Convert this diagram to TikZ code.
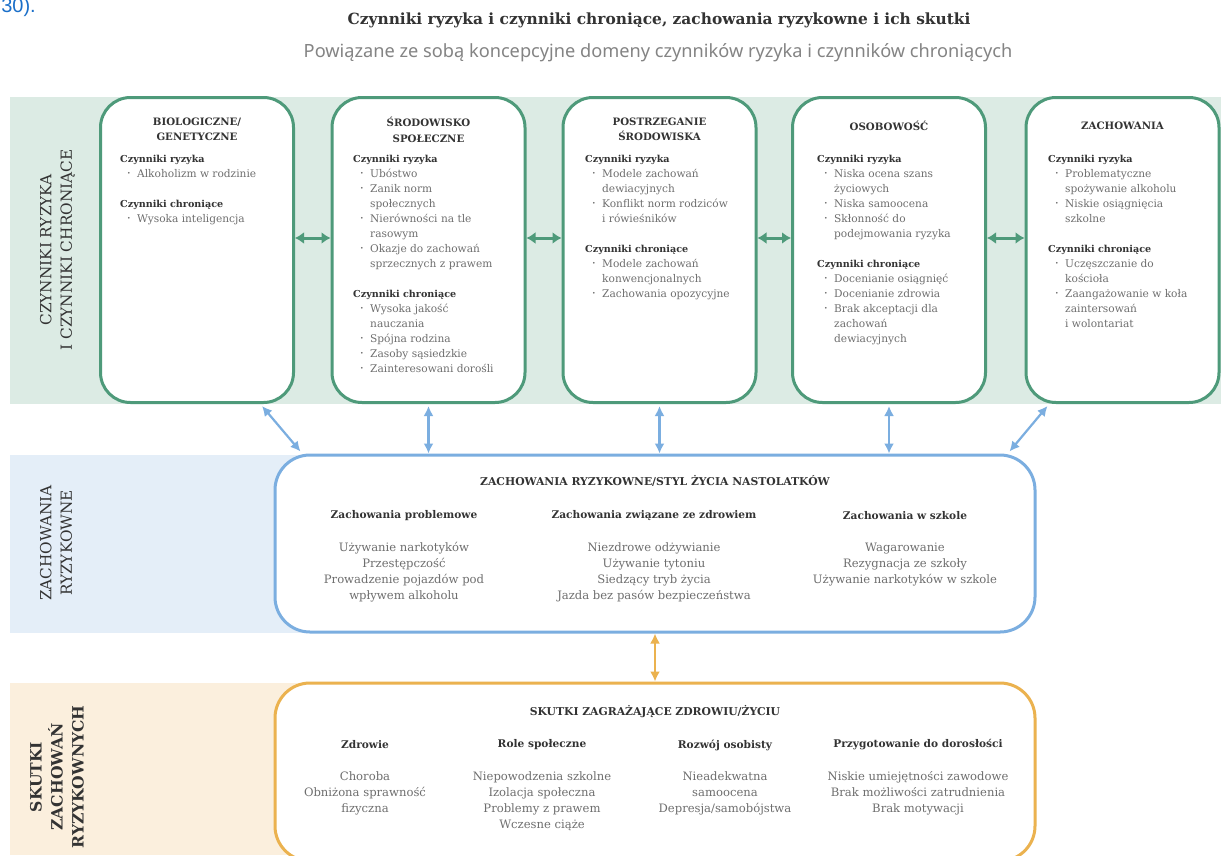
\documentclass[tikz,border=0pt]{standalone}
\usepackage{fontspec}
\setmainfont{DejaVu Serif}
\newfontfamily\subfont{Noto Sans}
\newfontfamily\linkfont{Liberation Sans}
\usetikzlibrary{arrows.meta}
\definecolor{greenband}{HTML}{DCEBE4}
\definecolor{greenline}{HTML}{4E9A7A}
\definecolor{blueband}{HTML}{E4EEF8}
\definecolor{blueline}{HTML}{7BAEE0}
\definecolor{orangeband}{HTML}{FBEFDD}
\definecolor{orangeline}{HTML}{EBB24F}
\definecolor{headgray}{HTML}{333333}
\definecolor{itemgray}{HTML}{6E6E6E}
\definecolor{linkblue}{HTML}{1A6FC9}
\newcommand{\factorhead}[1]{{\fontsize{9.6}{15}\selectfont\bfseries\color{headgray}#1}}
\newcommand{\bul}[1]{\hspace*{7pt}\makebox[10pt][l]{\fontsize{6}{6}\selectfont\raisebox{1.5pt}{•}}#1}
\newcommand{\cont}[1]{\hspace*{17pt}#1}
\tikzset{
  domainbox/.style={draw=greenline, line width=3pt, fill=white, rounded corners=30pt,
    minimum width=193pt, minimum height=305pt, inner sep=0pt},
  riskbox/.style={draw=blueline, line width=3pt, fill=white, rounded corners=35pt,
    minimum width=760pt, minimum height=177pt, inner sep=0pt},
  outcomebox/.style={draw=orangeline, line width=3pt, fill=white, rounded corners=35pt,
    minimum width=760pt, minimum height=178pt, inner sep=0pt},
  boxhead/.style={font=\fontsize{10.2}{15.5}\selectfont\bfseries, text=headgray, align=center, inner sep=0pt},
  factors/.style={font=\fontsize{10.6}{15}\selectfont, text=itemgray, align=left, anchor=north west, inner sep=0pt},
  colhead/.style={font=\fontsize{10.6}{16}\selectfont\bfseries, text=headgray, inner sep=0pt},
  colitems/.style={font=\fontsize{11.6}{16}\selectfont, text=itemgray, align=center, anchor=north, inner sep=0pt},
  sidelabel/.style={rotate=90, align=center, text=headgray, font=\fontsize{15.3}{20.5}\selectfont, inner sep=0pt},
  garrow/.style={draw=greenline, line width=3pt, {Latex[length=9pt,width=12pt]}-{Latex[length=9pt,width=12pt]}},
  barrow/.style={draw=blueline, line width=2.2pt, {Latex[length=10pt,width=10pt]}-{Latex[length=10pt,width=10pt]}},
  oarrow/.style={draw=orangeline, line width=2.2pt, {Latex[length=10pt,width=10pt]}-{Latex[length=10pt,width=10pt]}}
}
\begin{document}
\begin{tikzpicture}[x=1pt, y=-1pt]
\useasboundingbox (0,0) rectangle (1221,855);
\fill[white] (0,0) rectangle (1221,855);
\node[anchor=base east, text=linkblue, font=\linkfont\fontsize{20}{20}\selectfont, inner sep=0pt] (link) at (36,12) {30).};
\node[font=\fontsize{15.4}{18}\selectfont\bfseries, text=headgray] (title) at (659,20) {Czynniki ryzyka i czynniki chroniące, zachowania ryzykowne i ich skutki};
\node[font=\subfont\fontsize{18.2}{20}\selectfont, text=itemgray!85] (subtitle) at (658,53) {Powiązane ze sobą koncepcyjne domeny czynników ryzyka i czynników chroniących};

\fill[greenband] (10,97) rectangle (1221,404);
\fill[blueband] (10,455) rectangle (1000,633);
\fill[orangeband] (10,683) rectangle (1000,855);

\node[sidelabel] (lab1) at (57.5,250) {CZYNNIKI RYZYKA\\I CZYNNIKI CHRONIĄCE};
\node[sidelabel] (lab2) at (56,543) {ZACHOWANIA\\RYZYKOWNE};
\node[sidelabel, font=\fontsize{15.6}{21}\selectfont\bfseries] (lab3) at (57,777) {SKUTKI\\ZACHOWAŃ\\RYZYKOWNYCH};

\node[domainbox] (b1) at (197,250) {};
\node[domainbox] (b2) at (428.5,250) {};
\node[domainbox] (b3) at (659.5,250) {};
\node[domainbox] (b4) at (889,250) {};
\node[domainbox] (b5) at (1122.5,250) {};

\node[boxhead] (h1) at (197,129.5) {BIOLOGICZNE/\\GENETYCZNE};
\node[boxhead] (h2) at (428.5,130) {ŚRODOWISKO\\SPOŁECZNE};
\node[boxhead] (h3) at (659.5,129.5) {POSTRZEGANIE\\ŚRODOWISKA};
\node[boxhead] (h4) at (889,126) {OSOBOWOŚĆ};
\node[boxhead] (h5) at (1122.5,126) {ZACHOWANIA};

\node[factors] (f1) at (120,154.5) {\factorhead{Czynniki ryzyka}\\
\bul{Alkoholizm w rodzinie}\\[15pt]
\factorhead{Czynniki chroniące}\\
\bul{Wysoka inteligencja}};
\node[factors] (f2) at (353,154.5) {\factorhead{Czynniki ryzyka}\\
\bul{Ubóstwo}\\
\bul{Zanik norm}\\
\cont{społecznych}\\
\bul{Nierówności na tle}\\
\cont{rasowym}\\
\bul{Okazje do zachowań}\\
\cont{sprzecznych z prawem}\\[15pt]
\factorhead{Czynniki chroniące}\\
\bul{Wysoka jakość}\\
\cont{nauczania}\\
\bul{Spójna rodzina}\\
\bul{Zasoby sąsiedzkie}\\
\bul{Zainteresowani dorośli}};
\node[factors] (f3) at (585,154.5) {\factorhead{Czynniki ryzyka}\\
\bul{Modele zachowań}\\
\cont{dewiacyjnych}\\
\bul{Konflikt norm rodziców}\\
\cont{i rówieśników}\\[15pt]
\factorhead{Czynniki chroniące}\\
\bul{Modele zachowań}\\
\cont{konwencjonalnych}\\
\bul{Zachowania opozycyjne}};
\node[factors] (f4) at (817,154.5) {\factorhead{Czynniki ryzyka}\\
\bul{Niska ocena szans}\\
\cont{życiowych}\\
\bul{Niska samoocena}\\
\bul{Skłonność do}\\
\cont{podejmowania ryzyka}\\[15pt]
\factorhead{Czynniki chroniące}\\
\bul{Docenianie osiągnięć}\\
\bul{Docenianie zdrowia}\\
\bul{Brak akceptacji dla}\\
\cont{zachowań}\\
\cont{dewiacyjnych}};
\node[factors] (f5) at (1048,154.5) {\factorhead{Czynniki ryzyka}\\
\bul{Problematyczne}\\
\cont{spożywanie alkoholu}\\
\bul{Niskie osiągnięcia}\\
\cont{szkolne}\\[15pt]
\factorhead{Czynniki chroniące}\\
\bul{Uczęszczanie do}\\
\cont{kościoła}\\
\bul{Zaangażowanie w koła}\\
\cont{zaintersowań}\\
\cont{i wolontariat}};

\draw[garrow] (b1.east |- 0,238) -- (b2.west |- 0,238);
\draw[garrow] (b2.east |- 0,238) -- (b3.west |- 0,238);
\draw[garrow] (b3.east |- 0,238) -- (b4.west |- 0,238);
\draw[garrow] (b4.east |- 0,238) -- (b5.west |- 0,238);

\node[riskbox] (rb) at (655,543.5) {};
\node[boxhead, font=\fontsize{10.8}{16}\selectfont\bfseries] (rbt) at (655,481) {ZACHOWANIA RYZYKOWNE/STYL ŻYCIA NASTOLATKÓW};
\node[colhead] (rh1) at (404,516) {Zachowania problemowe};
\node[colhead] (rh2) at (654,516) {Zachowania związane ze zdrowiem};
\node[colhead] (rh3) at (905,516) {Zachowania w szkole};
\node[colitems] (ri1) at (404,542.5) {Używanie narkotyków\\Przestępczość\\Prowadzenie pojazdów pod\\wpływem alkoholu};
\node[colitems] (ri2) at (654,542.5) {Niezdrowe odżywianie\\Używanie tytoniu\\Siedzący tryb życia\\Jazda bez pasów bezpieczeństwa};
\node[colitems] (ri3) at (905,542.5) {Wagarowanie\\Rezygnacja ze szkoły\\Używanie narkotyków w szkole};

\draw[barrow] ([xshift=65pt,yshift=-2pt]b1.south) -- ([xshift=27pt,yshift=2pt]rb.north west);
\foreach \b in {b2,b3,b4}
{
\draw[barrow] ([yshift=-2pt]\b.south) -- (\b.south |- rb.north);
}
\draw[barrow] ([xshift=-75pt,yshift=-2pt]b5.south) -- ([xshift=-27pt,yshift=2pt]rb.north east);

\node[outcomebox] (ob) at (655,772) {};
\node[boxhead, font=\fontsize{10.8}{16}\selectfont\bfseries] (obt) at (655,712) {SKUTKI ZAGRAŻAJĄCE ZDROWIU/ŻYCIU};
\node[colhead] (oh1) at (365,745) {Zdrowie};
\node[colhead] (oh2) at (542,745) {Role społeczne};
\node[colhead] (oh3) at (725,745) {Rozwój osobisty};
\node[colhead] (oh4) at (918,745) {Przygotowanie do dorosłości};
\node[colitems] (oi1) at (365,771.5) {Choroba\\Obniżona sprawność\\fizyczna};
\node[colitems] (oi2) at (542,771.5) {Niepowodzenia szkolne\\Izolacja społeczna\\Problemy z prawem\\Wczesne ciąże};
\node[colitems] (oi3) at (725,771.5) {Nieadekwatna\\samoocena\\Depresja/samobójstwa};
\node[colitems] (oi4) at (918,771.5) {Niskie umiejętności zawodowe\\Brak możliwości zatrudnienia\\Brak motywacji};

\draw[oarrow] (rb.south) -- (ob.north);
\end{tikzpicture}
\end{document}
